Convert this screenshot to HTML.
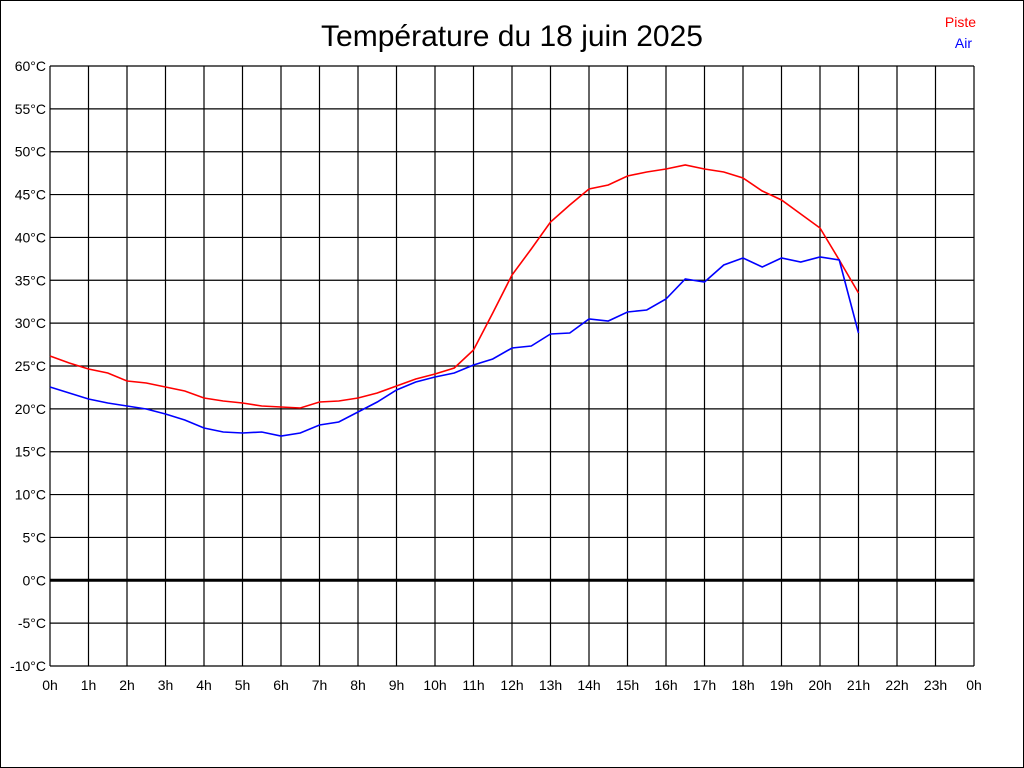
<!DOCTYPE html>
<html><head><meta charset="utf-8"><style>
html,body{margin:0;padding:0;background:#fff}
svg{display:block}
text{font-family:"Liberation Sans",sans-serif}
</style></head><body>
<svg width="1024" height="768" viewBox="0 0 1024 768" xmlns="http://www.w3.org/2000/svg">
<rect x="0.5" y="0.5" width="1023" height="767" fill="#fff" stroke="#000"/>
<text x="512" y="46" font-size="30" text-anchor="middle">Température du 18 juin 2025</text>
<text x="976" y="27" font-size="14" fill="#f00" text-anchor="end">Piste</text>
<text x="972" y="48" font-size="14" fill="#00f" text-anchor="end">Air</text>
<g id="grid" stroke="#000" stroke-width="1.2" fill="none"></g>
<g id="labels" font-size="14" fill="#000"></g>
<polyline fill="none" stroke="#f00" stroke-width="1.6" points="50,356 69.25,363 88.5,369 107.75,373 127,381 146.25,383 165.5,387 184.75,391 204,398 223.25,401 242.5,403 261.75,406 281,407 300.25,408 319.5,402 338.75,401 358,398 377.25,393 396.5,386 415.75,379 435,374 454.25,368 473.5,350 492.75,313 512,275 531.25,249 550.5,222 569.75,205 589,189 608.25,185 627.5,176 646.75,172 666,169 685.25,165 704.5,169 723.75,172 743,178 762.25,191 781.5,200 800.75,214 820,228 839.25,260 858.5,293"/>
<polyline fill="none" stroke="#00f" stroke-width="1.6" points="50,387 69.25,393 88.5,399 107.75,403 127,406 146.25,409 165.5,414 184.75,420 204,428 223.25,432 242.5,433 261.75,432 281,436 300.25,433 319.5,425 338.75,422 358,412 377.25,402 396.5,390 415.75,382 435,377 454.25,373 473.5,365 492.75,359 512,348 531.25,346 550.5,334 569.75,333 589,319 608.25,321 627.5,312 646.75,310 666,299 685.25,279 704.5,282 723.75,265 743,258 762.25,267 781.5,258 800.75,262 820,257 839.25,260 858.5,333"/>
</svg>
<script>
var ns="http://www.w3.org/2000/svg",g=document.getElementById('grid'),L=document.getElementById('labels');
function ln(x1,y1,x2,y2,w){var l=document.createElementNS(ns,'line');l.setAttribute('x1',x1);l.setAttribute('y1',y1);l.setAttribute('x2',x2);l.setAttribute('y2',y2);if(w)l.setAttribute('stroke-width',w);g.appendChild(l);}
function tx(x,y,s,a){var t=document.createElementNS(ns,'text');t.setAttribute('x',x);t.setAttribute('y',y);t.setAttribute('text-anchor',a);t.textContent=s;L.appendChild(t);}
for(var i=0;i<=24;i++){var x=50+i*38.5;ln(x,66,x,666);tx(x,690,(i==24?0:i)+'h','middle');}
for(var j=0;j<=14;j++){var v=60-5*j,y=66+j*600/14;ln(50,y,974,y,v==0?3:null);tx(46,y+5,v+'°C','end');}
</script>
</body></html>
